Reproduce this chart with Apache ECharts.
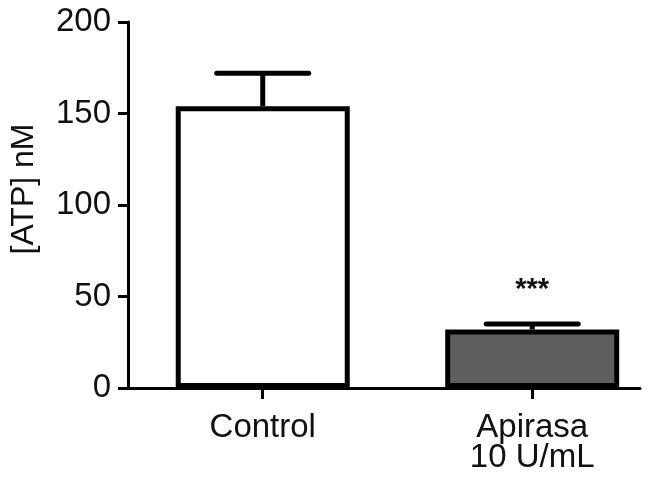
<!DOCTYPE html>
<html>
<head>
<meta charset="utf-8">
<script src="https://cdn.jsdelivr.net/npm/echarts@6/dist/echarts.min.js"></script>
<style>
html,body{margin:0;padding:0;background:#fff;}
#chart{width:659px;height:477px;}
</style>
</head>
<body>
<div id="chart"></div>
<script>
var categories = ['Control', 'Apirasa\n10 U/mL'];
var means = [154, 32];
var sems = [18, 3];
var barColors = ['#ffffff', '#5f5f5f'];
var significance = ['', '***'];
var yTicks = [0, 50, 100, 150, 200];

var positions = categories.map(function (c, i) { return i; });
var chart = echarts.init(document.getElementById('chart'), null, {renderer: 'canvas'});
var font = 'Liberation Sans, Arial, sans-serif';

var barData = means.map(function (v, i) {
  return {value: [i, v], itemStyle: {color: barColors[i]}};
});
var errData = means.map(function (v, i) { return [i, v, v + sems[i], significance[i]]; });

chart.setOption({
  animation: false,
  backgroundColor: '#ffffff',
  grid: {left: 127, right: 19, top: 22, bottom: 89, containLabel: false},
  xAxis: {
    type: 'value',
    min: -0.5,
    max: 1.4,
    splitLine: {show: false},
    axisLine: {show: true, onZero: false, lineStyle: {color: '#000', width: 3}},
    axisTick: {show: true, customValues: positions, length: 11, lineStyle: {color: '#000', width: 3}},
    axisLabel: {
      customValues: positions,
      margin: 25,
      color: '#111',
      fontFamily: font,
      fontSize: 33,
      lineHeight: 30,
      formatter: function (v) { return categories[Math.round(v)] || ''; }
    }
  },
  yAxis: {
    type: 'value',
    min: yTicks[0],
    max: yTicks[yTicks.length - 1],
    interval: 50,
    name: '[ATP] nM',
    nameLocation: 'middle',
    nameGap: 88,
    nameTextStyle: {color: '#111', fontFamily: font, fontSize: 32, padding: [0, 0, 0, 32]},
    splitLine: {show: false},
    axisLine: {show: true, onZero: false, lineStyle: {color: '#000', width: 3}},
    axisTick: {show: true, length: 10, lineStyle: {color: '#000', width: 3}},
    axisLabel: {margin: 17, color: '#111', fontFamily: font, fontSize: 33}
  },
  series: [
    {
      type: 'bar',
      data: barData,
      barWidth: 174,
      itemStyle: {borderColor: '#000', borderWidth: 5},
      z: 3
    },
    {
      type: 'custom',
      data: errData,
      z: 2,
      renderItem: function (params, api) {
        var x = api.value(0);
        var top = api.coord([x, api.value(2)]);
        var base = api.coord([x, api.value(1)]);
        var half = 46;
        var children = [
          {type: 'line', shape: {x1: top[0], y1: base[1], x2: top[0], y2: top[1]},
           style: {stroke: '#000', lineWidth: 5}},
          {type: 'line', shape: {x1: top[0] - half, y1: top[1], x2: top[0] + half, y2: top[1]},
           style: {stroke: '#000', lineWidth: 5, lineCap: 'round'}}
        ];
        var sig = significance[params.dataIndex];
        if (sig) {
          children.push({type: 'text', style: {
            x: top[0], y: top[1] - 34, text: sig, align: 'center', verticalAlign: 'middle',
            font: 'bold 29px ' + font, fill: '#111'
          }});
        }
        return {type: 'group', children: children};
      }
    }
  ]
});
</script>
</body>
</html>
